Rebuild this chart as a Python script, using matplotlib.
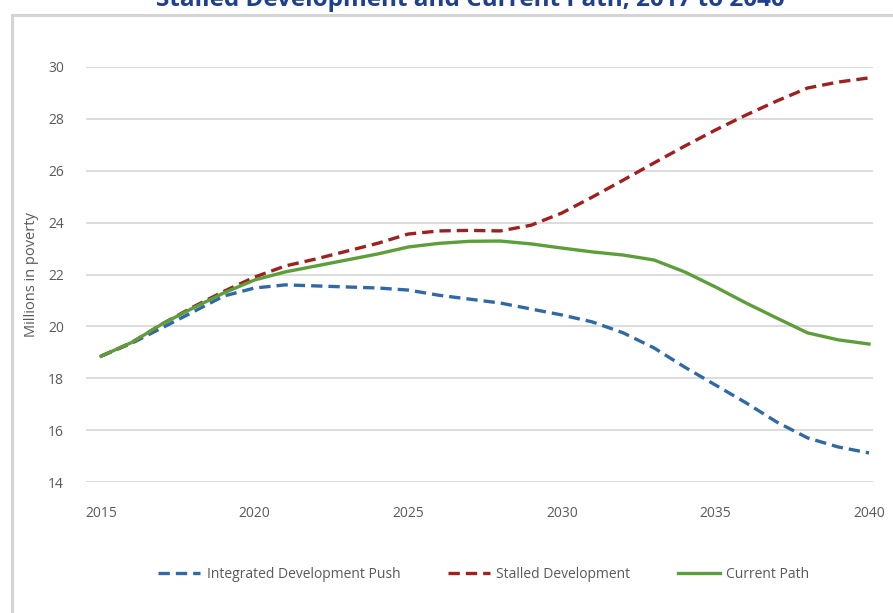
import matplotlib.pyplot as plt
from matplotlib.patches import Rectangle

plt.rcParams['font.family'] = ['Open Sans', 'DejaVu Sans']

years = list(range(2015, 2041))

integrated_push = [18.85, 19.35, 19.95, 20.56, 21.17, 21.48, 21.60, 21.56, 21.52, 21.48,
                   21.40, 21.20, 21.05, 20.90, 20.67, 20.44, 20.17, 19.75, 19.17, 18.43,
                   17.74, 17.05, 16.31, 15.70, 15.35, 15.12]
stalled = [18.85, 19.38, 20.10, 20.75, 21.35, 21.90, 22.33, 22.60, 22.90, 23.20,
           23.56, 23.68, 23.70, 23.68, 23.90, 24.37, 24.99, 25.64, 26.30, 26.95,
           27.57, 28.15, 28.69, 29.19, 29.42, 29.58]
current_path = [18.85, 19.38, 20.10, 20.71, 21.29, 21.79, 22.10, 22.33, 22.56, 22.79,
                23.06, 23.20, 23.28, 23.29, 23.18, 23.02, 22.87, 22.75, 22.56, 22.10,
                21.52, 20.90, 20.32, 19.75, 19.48, 19.32]

series_names = ['Integrated Development Push', 'Stalled Development', 'Current Path']

W, H = 893, 613
fig = plt.figure(figsize=(W / 100, H / 100), dpi=100)

# outer frame (cut off on the right and bottom like the source)
fig.patches.append(Rectangle((12 / W, -0.1), 1.1, 1 - 15 / H + 0.1, transform=fig.transFigure,
                             fill=False, edgecolor='#d4d4d4', linewidth=2.2, zorder=0))

# title, clipped at the top edge as in the source
fig.text(470 / W, 1 - 6 / H, 'Stalled Development and Current Path, 2017 to 2040',
         ha='center', va='baseline', fontsize=17.5, fontweight='bold', color='#1f3f8f')

ax = fig.add_axes([86 / W, 1 - 482 / H, (873 - 86) / W, (482 - 67) / H])

ax.plot(years, integrated_push, color='#2f69a6', linewidth=2.4, linestyle=(0, (3.4, 1.8)),
        label=series_names[0])
ax.plot(years, stalled, color='#a02020', linewidth=2.4, linestyle=(0, (3.4, 1.8)),
        label=series_names[1])
ax.plot(years, current_path, color='#5c9e3a', linewidth=2.4, label=series_names[2])

ax.set_xlim(2015 - 15 / 30.72, 2040 + 4 / 30.72)
ax.set_ylim(14, 30)
ax.set_xticks(range(2015, 2041, 5))
ax.set_yticks(range(14, 31, 2))
ax.grid(axis='y', color='#dcdcdc', linewidth=1.4)
ax.set_axisbelow(True)
for s in ax.spines.values():
    s.set_visible(False)
ax.tick_params(axis='both', length=0, labelsize=10, labelcolor='#595959')
ax.tick_params(axis='y', pad=16)
ax.tick_params(axis='x', pad=17)
ax.set_ylabel('Millions in poverty', fontsize=10.5, color='#595959', labelpad=6)

fig.legend(loc='center', bbox_to_anchor=(484 / W, 1 - 574 / H), ncol=3, frameon=False,
           fontsize=10, handlelength=3.0, columnspacing=3.4, handletextpad=0.5,
           labelcolor='#595959')

fig.savefig('out.png', dpi=100)
